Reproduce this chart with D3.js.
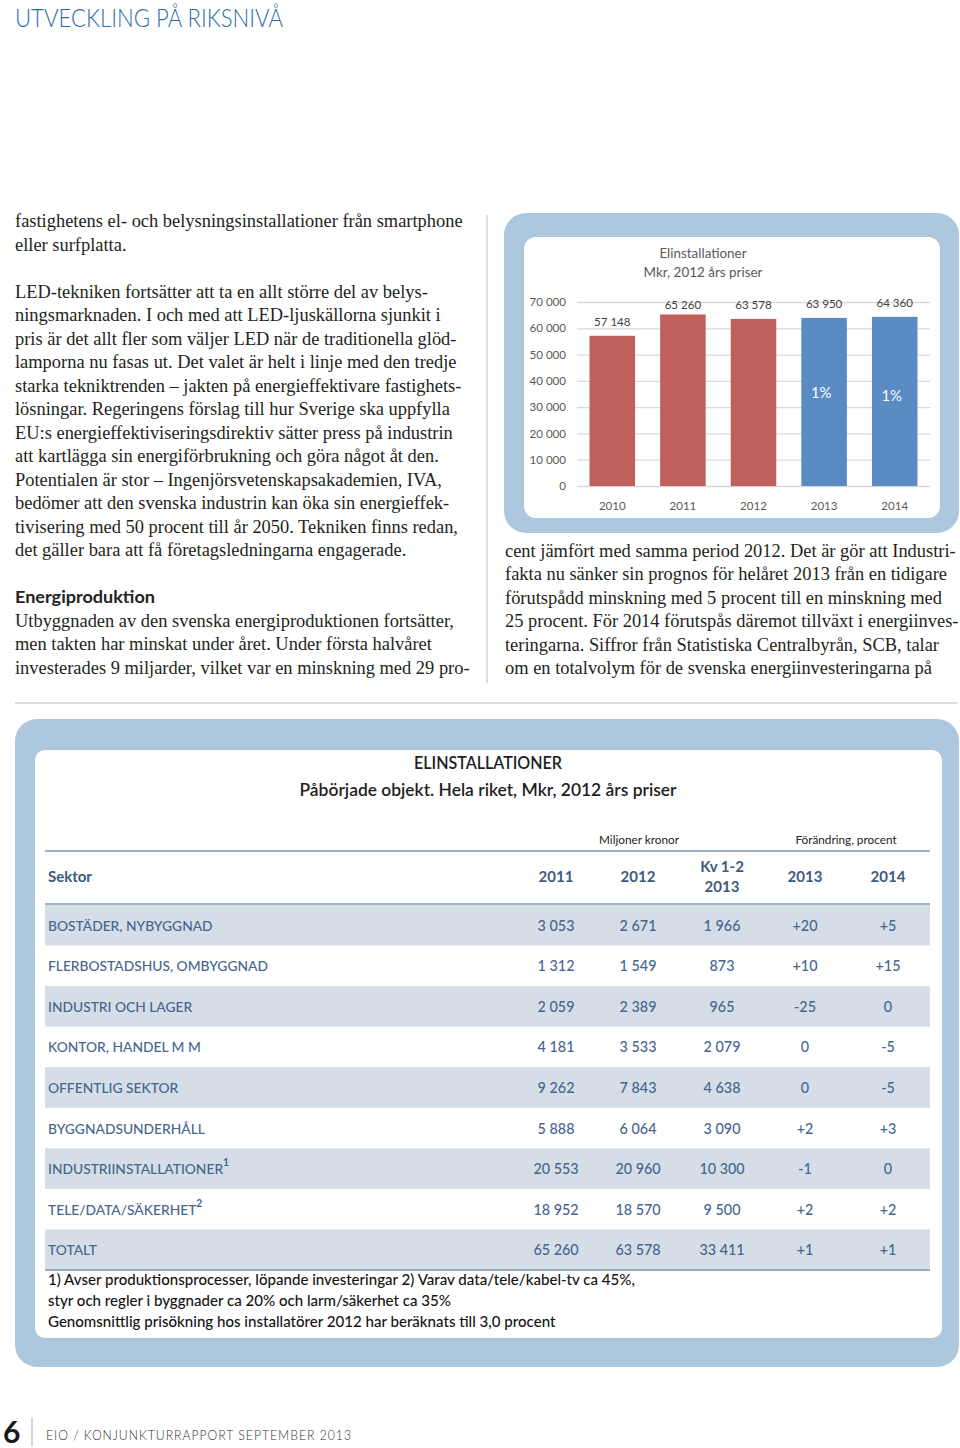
<!DOCTYPE html>
<html><head><meta charset="utf-8">
<script src="https://cdn.jsdelivr.net/npm/d3@7"></script>
<style>body{margin:0;background:#fff}svg{display:block}</style>
</head><body>
<svg id="page" width="960" height="1448"></svg>
<script>
// ---------- chart data ----------
const years = ["2010", "2011", "2012", "2013", "2014"];
const totals = [57148, 65260, 63578, 63950, 64360];
const isForecast = [false, false, false, true, true];
const growthLabels = ["", "", "", "1%", "1%"];
const yTicks = [0, 10000, 20000, 30000, 40000, 50000, 60000, 70000];

// ---------- table data ----------
const sectors = ["BOSTÄDER, NYBYGGNAD", "FLERBOSTADSHUS, OMBYGGNAD", "INDUSTRI OCH LAGER",
  "KONTOR, HANDEL M M", "OFFENTLIG SEKTOR", "BYGGNADSUNDERHÅLL", "INDUSTRIINSTALLATIONER",
  "TELE/DATA/SÄKERHET", "TOTALT"];
const noteMarks = ["", "", "", "", "", "", "1", "2", ""];
const mkr2011 = [3053, 1312, 2059, 4181, 9262, 5888, 20553, 18952, 65260];
const mkr2012 = [2671, 1549, 2389, 3533, 7843, 6064, 20960, 18570, 63578];
const mkrKv12_2013 = [1966, 873, 965, 2079, 4638, 3090, 10300, 9500, 33411];
const change2013 = [20, 10, -25, 0, 0, 2, -1, 2, 1];
const change2014 = [5, 15, 0, -5, -5, 3, 0, 2, 1];
const columnHeads = [["2011"], ["2012"], ["Kv 1-2", "2013"], ["2013"], ["2014"]];
const footnotes = ["1) Avser produktionsprocesser, löpande investeringar  2) Varav data/tele/kabel-tv ca 45%,",
  "styr och regler i byggnader ca 20% och larm/säkerhet ca 35%",
  "Genomsnittlig prisökning hos installatörer 2012 har beräknats till 3,0 procent"];

// ---------- page text ----------
const leftText = [
  "fastighetens el- och belysningsinstallationer från smartphone",
  "eller surfplatta.",
  "",
  "LED-tekniken fortsätter att ta en allt större del av belys-",
  "ningsmarknaden. I och med att LED-ljuskällorna sjunkit i",
  "pris är det allt fler som väljer LED när de traditionella glöd-",
  "lamporna nu fasas ut. Det valet är helt i linje med den tredje",
  "starka tekniktrenden – jakten på energieffektivare fastighets-",
  "lösningar. Regeringens förslag till hur Sverige ska uppfylla",
  "EU:s energieffektiviseringsdirektiv sätter press på industrin",
  "att kartlägga sin energiförbrukning och göra något åt den.",
  "Potentialen är stor – Ingenjörsvetenskapsakademien, IVA,",
  "bedömer att den svenska industrin kan öka sin energieffek-",
  "tivisering med 50 procent till år 2050. Tekniken finns redan,",
  "det gäller bara att få företagsledningarna engagerade.",
  "",
  "#Energiproduktion",
  "Utbyggnaden av den svenska energiproduktionen fortsätter,",
  "men takten har minskat under året. Under första halvåret",
  "investerades 9 miljarder, vilket var en minskning med 29 pro-"
];
const rightText = [
  "cent jämfört med samma period 2012. Det är gör att Industri-",
  "fakta nu sänker sin prognos för helåret 2013 från en tidigare",
  "förutspådd minskning med 5 procent till en minskning med",
  "25 procent. För 2014 förutspås däremot tillväxt i energiinves-",
  "teringarna. Siffror från Statistiska Centralbyrån, SCB, talar",
  "om en totalvolym för de svenska energiinvesteringarna på"
];

// ---------- drawing ----------
const svg = d3.select("#page");
function measure(text, font) {
  const t = svg.append("text").attr("x", -2000).attr("y", -2000).style("font", font).text(text);
  const w = t.node().getComputedTextLength(); t.remove(); return w;
}
function calib(text, family, weight, target) {
  return 20 * target / measure(text, `${weight} 20px ${family}`);
}
const SERIF = "'Liberation Serif', 'DejaVu Serif', serif";
const SANS = "Lato, 'Open Sans', sans-serif";

const bodySize = calib(leftText[0], SERIF, 400, 448);
const locale = d3.formatLocale({decimal: ",", thousands: "\u00a0", grouping: [3], currency: ["", ""], minus: "-"});
const fmt = locale.format(",d");
const fmtChange = v => v > 0 ? "+" + v : String(v);

// header
svg.append("text").attr("x", 15).attr("y", 27).text("UTVECKLING PÅ RIKSNIVÅ")
  .style("font", `300 26px ${SANS}`).attr("fill", "#2d6ea8")
  .attr("textLength", 268).attr("lengthAdjust", "spacingAndGlyphs");

// body text
const lh = 23.5;
leftText.forEach((s, i) => {
  if (!s) return;
  const y = 227 + i * lh;
  if (s[0] === "#") {
    svg.append("text").attr("x", 15).attr("y", y).text(s.slice(1))
      .style("font", `700 17px ${SANS}`).attr("fill", "#222")
      .attr("textLength", 140).attr("lengthAdjust", "spacingAndGlyphs");
  } else {
    svg.append("text").attr("x", 15).attr("y", y).text(s)
      .style("font", `400 ${bodySize}px ${SERIF}`).attr("fill", "#231f20");
  }
});
rightText.forEach((s, i) => {
  svg.append("text").attr("x", 505).attr("y", 556.5 + i * lh).text(s)
    .style("font", `400 ${bodySize}px ${SERIF}`).attr("fill", "#231f20");
});

// dividers
svg.append("line").attr("x1", 487).attr("x2", 487).attr("y1", 215).attr("y2", 683)
  .attr("stroke", "#dcdcdc").attr("stroke-width", 2);
svg.append("line").attr("x1", 15).attr("x2", 958).attr("y1", 703).attr("y2", 703)
  .attr("stroke", "#dcdcdc").attr("stroke-width", 2);

// ---------- bar chart panel ----------
const PANEL = "#adc8de";
svg.append("rect").attr("x", 504).attr("y", 213).attr("width", 455).attr("height", 320).attr("rx", 22).attr("fill", PANEL);
svg.append("rect").attr("x", 524).attr("y", 237).attr("width", 416).attr("height", 281).attr("rx", 12).attr("fill", "#fff");

const chartSize = calib("Mkr, 2012 års priser", SANS, 400, 119);
const g = svg.append("g");
g.append("text").attr("x", 703).attr("y", 258).attr("text-anchor", "middle").text("Elinstallationer")
  .style("font", `400 ${chartSize}px ${SANS}`).attr("fill", "#595959");
g.append("text").attr("x", 703).attr("y", 277).attr("text-anchor", "middle").text("Mkr, 2012 års priser")
  .style("font", `400 ${chartSize}px ${SANS}`).attr("fill", "#595959");

const x = d3.scaleBand().domain(years).range([577, 930]).paddingInner(0.355).paddingOuter(0.177);
const y = d3.scaleLinear().domain([0, 70000]).range([486, 302]);
const tickSize = chartSize * 0.86;

const yAxis = g.append("g").attr("transform", "translate(577,0)")
  .call(d3.axisLeft(y).tickValues(yTicks).tickFormat(fmt).tickSize(-353).tickPadding(11));
yAxis.select(".domain").remove();
yAxis.selectAll(".tick line").attr("stroke", "#d9d9d9").attr("stroke-width", 1.3);
yAxis.selectAll(".tick text").style("font", `400 ${tickSize}px ${SANS}`).attr("fill", "#595959");

const xAxis = g.append("g").attr("transform", "translate(0,486)")
  .call(d3.axisBottom(x).tickSize(0).tickPadding(16));
xAxis.select(".domain").remove();
xAxis.selectAll(".tick text").style("font", `400 ${tickSize}px ${SANS}`).attr("fill", "#595959");

g.selectAll("rect.bar").data(years).join("rect").attr("class", "bar")
  .attr("x", d => x(d)).attr("width", x.bandwidth())
  .attr("y", (d, i) => y(totals[i])).attr("height", (d, i) => y(0) - y(totals[i]))
  .attr("fill", (d, i) => isForecast[i] ? "#5a8bc3" : "#c0605d");
g.selectAll("text.val").data(years).join("text").attr("class", "val")
  .attr("x", d => x(d) + x.bandwidth() / 2)
  .attr("y", (d, i) => y(totals[i]) - (i === 1 ? 5 : 10))
  .attr("text-anchor", "middle").text((d, i) => fmt(totals[i]))
  .style("font", `400 ${tickSize}px ${SANS}`).attr("fill", "#404040");
g.selectAll("text.pct").data(years).join("text").attr("class", "pct")
  .attr("x", d => x(d) + x.bandwidth() / 2 - 3)
  .attr("y", (d, i) => 398 + (i === 4 ? 3 : 0))
  .attr("text-anchor", "middle").text((d, i) => growthLabels[i])
  .style("font", `400 ${chartSize * 1.1}px ${SANS}`).attr("fill", "#fff");

// ---------- table panel ----------
svg.append("rect").attr("x", 15).attr("y", 719).attr("width", 944).attr("height", 648).attr("rx", 22).attr("fill", PANEL);
svg.append("rect").attr("x", 35).attr("y", 750).attr("width", 907).attr("height", 588).attr("rx", 10).attr("fill", "#fff");

const t = svg.append("g");
t.append("text").attr("x", 488).attr("y", 769).attr("text-anchor", "middle").text("ELINSTALLATIONER")
  .style("font", `600 17px ${SANS}`).attr("fill", "#1e1e1e")
  .attr("textLength", 148).attr("lengthAdjust", "spacingAndGlyphs");
t.append("text").attr("x", 488).attr("y", 796).attr("text-anchor", "middle").text("Påbörjade objekt. Hela riket, Mkr, 2012 års priser")
  .style("font", `600 17px ${SANS}`).attr("fill", "#1e1e1e")
  .attr("textLength", 377).attr("lengthAdjust", "spacingAndGlyphs");

const labelSize = calib("FLERBOSTADSHUS, OMBYGGNAD", SANS, 500, 220);
const smallSize = calib("Miljoner kronor", SANS, 400, 80);
t.append("text").attr("x", 639).attr("y", 844).attr("text-anchor", "middle").text("Miljoner kronor")
  .style("font", `400 ${smallSize}px ${SANS}`).attr("fill", "#222");
t.append("text").attr("x", 846).attr("y", 844).attr("text-anchor", "middle").text("Förändring, procent")
  .style("font", `400 ${smallSize}px ${SANS}`).attr("fill", "#222");

const colX = [556, 638, 722, 805, 888];
const rowY = d3.scaleBand().domain(d3.range(sectors.length)).range([905, 905 + 40.55 * sectors.length]);
const HEAD = "#3d5a80", TXT = "#466690";

// shaded rows
t.selectAll("rect.row").data(d3.range(sectors.length).filter(i => i % 2 === 0)).join("rect")
  .attr("x", 45).attr("width", 885).attr("y", i => rowY(i)).attr("height", rowY.bandwidth())
  .attr("fill", "#d5dde7");
// rules
[851, 904, 1270].forEach(yy => t.append("line").attr("x1", 45).attr("x2", 930).attr("y1", yy).attr("y2", yy)
  .attr("stroke", "#7f97b3").attr("stroke-width", 1.5));

// header row
const headSize = calib("Sektor", SANS, 700, 44);
t.append("text").attr("x", 48).attr("y", 882).text("Sektor").style("font", `700 ${headSize}px ${SANS}`).attr("fill", HEAD);
columnHeads.forEach((lines, c) => {
  lines.forEach((s, k) => {
    const yy = lines.length === 1 ? 882 : 872 + k * 20;
    t.append("text").attr("x", colX[c]).attr("y", yy).attr("text-anchor", "middle").text(s)
      .style("font", `700 ${headSize}px ${SANS}`).attr("fill", HEAD);
  });
});

// body rows
sectors.forEach((s, i) => {
  const yy = rowY(i) + rowY.bandwidth() / 2 + 5.5;
  const lab = t.append("text").attr("x", 48).attr("y", yy).style("font", `500 ${labelSize}px ${SANS}`).attr("fill", TXT);
  lab.append("tspan").text(s);
  if (noteMarks[i]) lab.append("tspan").attr("dy", -8).style("font-size", `${labelSize * 0.75}px`).style("font-weight", 700).text(noteMarks[i]);
  const vals = [fmt(mkr2011[i]), fmt(mkr2012[i]), fmt(mkrKv12_2013[i]), fmtChange(change2013[i]), fmtChange(change2014[i])];
  vals.forEach((v, c) => t.append("text").attr("x", colX[c]).attr("y", yy).attr("text-anchor", "middle").text(v)
    .style("font", `500 ${labelSize * 1.04}px ${SANS}`).attr("fill", TXT));
});

// footnotes
const noteSize = calib(footnotes[2], SANS, 500, 508);
footnotes.forEach((s, i) => t.append("text").attr("x", 48).attr("y", 1285 + i * 21).text(s)
  .style("font", `500 ${noteSize}px ${SANS}`).attr("fill", "#141414"));

// ---------- footer ----------
svg.append("text").attr("x", 3).attr("y", 1443).text("6").style("font", `700 30px ${SANS}`).attr("fill", "#1a1a1a");
svg.append("line").attr("x1", 32).attr("x2", 32).attr("y1", 1418).attr("y2", 1446).attr("stroke", "#aaa").attr("stroke-width", 1);
svg.append("text").attr("x", 46).attr("y", 1440).text("EIO / KONJUNKTURRAPPORT SEPTEMBER 2013")
  .style("font", `300 13px ${SANS}`).attr("fill", "#333").style("letter-spacing", "1px")
  .attr("textLength", 306).attr("lengthAdjust", "spacingAndGlyphs");
</script>
</body></html>
